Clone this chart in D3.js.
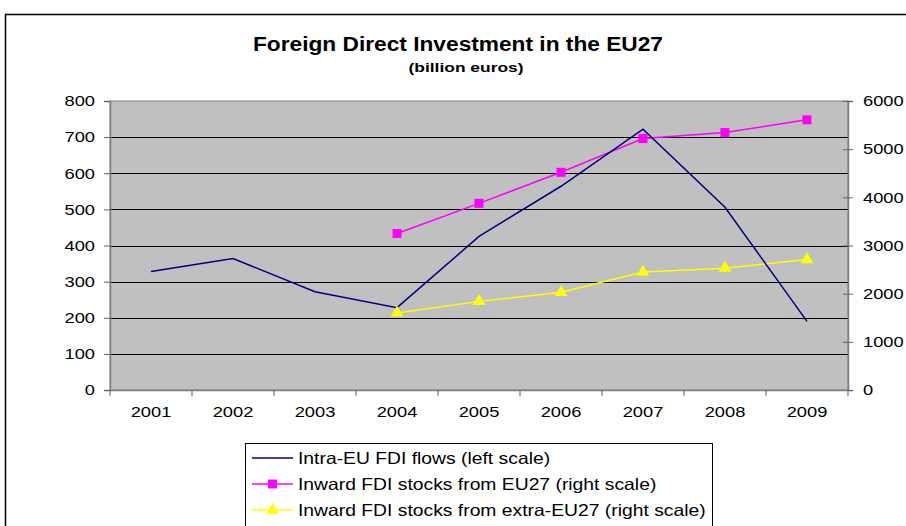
<!DOCTYPE html>
<html lang="en">
<head>
<meta charset="UTF-8">
<title>Foreign Direct Investment in the EU27</title>
<script src="https://d3js.org/d3.v7.min.js"></script>
<style>
  body { margin: 0; background: #fff; }
  svg { font-family: "Liberation Sans", Arial, sans-serif; }
</style>
</head>
<body>
<svg></svg>
<script>
var years = ["2001", "2002", "2003", "2004", "2005", "2006", "2007", "2008", "2009"];
var intraFlows = [328, 364, 272, 228, 425, 564, 722, 506, 190];
var stocksEU = [null, null, null, 3250, 3875, 4520, 5220, 5345, 5610];
var stocksExtra = [null, null, null, 1600, 1840, 2030, 2450, 2530, 2710];
var leftTicks = [0, 100, 200, 300, 400, 500, 600, 700, 800];
var rightTicks = [0, 1000, 2000, 3000, 4000, 5000, 6000];

var width = 906, height = 526;
var svg = d3.select("svg").attr("width", width).attr("height", height);

var plot = { left: 110, right: 848, top: 101, bottom: 390 };

// the original text is drawn a bit wider than Arial, so stretch it
function stretch(sel, factor) {
    sel.each(function () {
        var len = this.getComputedTextLength();
        d3.select(this).attr("textLength", len * factor).attr("lengthAdjust", "spacingAndGlyphs");
    });
}

// outer chart border
svg.append("rect").attr("x", 5.5).attr("y", 14.5).attr("width", 940).attr("height", 600)
    .attr("fill", "#fff").attr("stroke", "#000").attr("stroke-width", 1.5);

var title = svg.append("text").attr("x", 458).attr("y", 51).attr("text-anchor", "middle")
    .attr("font-size", 20).attr("font-weight", "bold").text("Foreign Direct Investment in the EU27");
title.attr("textLength", 410).attr("lengthAdjust", "spacingAndGlyphs");
var sub = svg.append("text").attr("x", 466).attr("y", 72).attr("text-anchor", "middle")
    .attr("font-size", 13.5).attr("font-weight", "bold").text("(billion euros)");
sub.attr("textLength", 115).attr("lengthAdjust", "spacingAndGlyphs");

var x = d3.scaleBand().domain(years).range([plot.left, plot.right]);
var yL = d3.scaleLinear().domain([0, 800]).range([plot.bottom, plot.top]);
var yR = d3.scaleLinear().domain([0, 6000]).range([plot.bottom, plot.top]);

svg.append("rect").attr("x", plot.left).attr("y", plot.top)
    .attr("width", plot.right - plot.left).attr("height", plot.bottom - plot.top)
    .attr("fill", "#c0c0c0").attr("stroke", "#808080");

// gridlines
svg.append("g").selectAll("line").data(leftTicks.slice(1, -1)).enter().append("line")
    .attr("x1", plot.left).attr("x2", plot.right)
    .attr("y1", function (d) { return Math.round(yL(d)) + 0.5; })
    .attr("y2", function (d) { return Math.round(yL(d)) + 0.5; })
    .attr("stroke", "#000").attr("stroke-width", 1.2);

// axes
var axisL = svg.append("g").attr("transform", "translate(" + plot.left + ",0)")
    .call(d3.axisLeft(yL).tickValues(leftTicks).tickSize(6).tickPadding(9));
var axisR = svg.append("g").attr("transform", "translate(" + plot.right + ",0)")
    .call(d3.axisRight(yR).tickValues(rightTicks).tickFormat(d3.format("d")).tickSize(5).tickPadding(10));
axisR.selectAll(".tick line").attr("x1", -5);
var axisB = svg.append("g").attr("transform", "translate(0," + plot.bottom + ")")
    .call(d3.axisBottom(x).tickSize(0).tickPadding(16));

[axisL, axisR, axisB].forEach(function (g) {
    g.attr("font-size", null).attr("font-family", null);
    g.select(".domain").attr("stroke", "#808080").attr("stroke-width", 1.5);
    g.selectAll(".tick line").attr("stroke", "#606060");
    g.selectAll("text").attr("font-size", 15).attr("fill", "#000");
    stretch(g.selectAll("text"), 1.22);
});
// category boundary ticks on x axis
svg.append("g").selectAll("line").data(years.concat(["end"])).enter().append("line")
    .attr("x1", function (d, i) { return plot.left + i * x.bandwidth(); })
    .attr("x2", function (d, i) { return plot.left + i * x.bandwidth(); })
    .attr("y1", plot.bottom).attr("y2", plot.bottom + 6)
    .attr("stroke", "#606060");

function cx(d, i) { return x(years[i]) + x.bandwidth() / 2; }

var lineL = d3.line().defined(function (d) { return d != null; })
    .x(cx).y(function (d) { return yL(d); });
var lineR = d3.line().defined(function (d) { return d != null; })
    .x(cx).y(function (d) { return yR(d); });

svg.append("path").datum(stocksExtra).attr("d", lineR)
    .attr("fill", "none").attr("stroke", "#ffff00").attr("stroke-width", 1.5);
svg.append("path").datum(stocksEU).attr("d", lineR)
    .attr("fill", "none").attr("stroke", "#ff00ff").attr("stroke-width", 1.5);
svg.append("path").datum(intraFlows).attr("d", lineL)
    .attr("fill", "none").attr("stroke", "#000080").attr("stroke-width", 1.5);

var tri = d3.symbol().type(d3.symbolTriangle).size(70);
svg.append("g").selectAll("path").data(stocksExtra).enter()
    .filter(function (d) { return d != null; }).append("path")
    .attr("d", tri)
    .attr("transform", function (d) {
        var i = stocksExtra.indexOf(d);
        return "translate(" + cx(d, i) + "," + yR(d) + ")";
    })
    .attr("fill", "#ffff00");
svg.append("g").selectAll("rect").data(stocksEU).enter()
    .filter(function (d) { return d != null; }).append("rect")
    .attr("x", function (d) { return cx(d, stocksEU.indexOf(d)) - 4.5; })
    .attr("y", function (d) { return yR(d) - 4.5; })
    .attr("width", 9).attr("height", 9).attr("fill", "#ff00ff");

// legend
var legend = svg.append("g");
legend.append("rect").attr("x", 245.5).attr("y", 443.5).attr("width", 467).attr("height", 100)
    .attr("fill", "#fff").attr("stroke", "#000");
var legendItems = [
    { label: "Intra-EU FDI flows (left scale)", color: "#000080", marker: null },
    { label: "Inward FDI stocks from EU27 (right scale)", color: "#ff00ff", marker: "square" },
    { label: "Inward FDI stocks from extra-EU27 (right scale)", color: "#ffff00", marker: "triangle" }
];
legendItems.forEach(function (it, i) {
    var yy = 458 + i * 26;
    legend.append("line").attr("x1", 252).attr("x2", 293).attr("y1", yy).attr("y2", yy)
        .attr("stroke", it.color).attr("stroke-width", 1.5);
    if (it.marker === "square") {
        legend.append("rect").attr("x", 268).attr("y", yy - 4.5).attr("width", 9).attr("height", 9)
            .attr("fill", it.color);
    } else if (it.marker === "triangle") {
        legend.append("path").attr("d", tri).attr("transform", "translate(272.5," + yy + ")")
            .attr("fill", it.color);
    }
    var t = legend.append("text").attr("x", 298).attr("y", yy + 5.5).attr("font-size", 16.5).text(it.label);
    stretch(t, 1.17);
});
</script>
</body>
</html>
